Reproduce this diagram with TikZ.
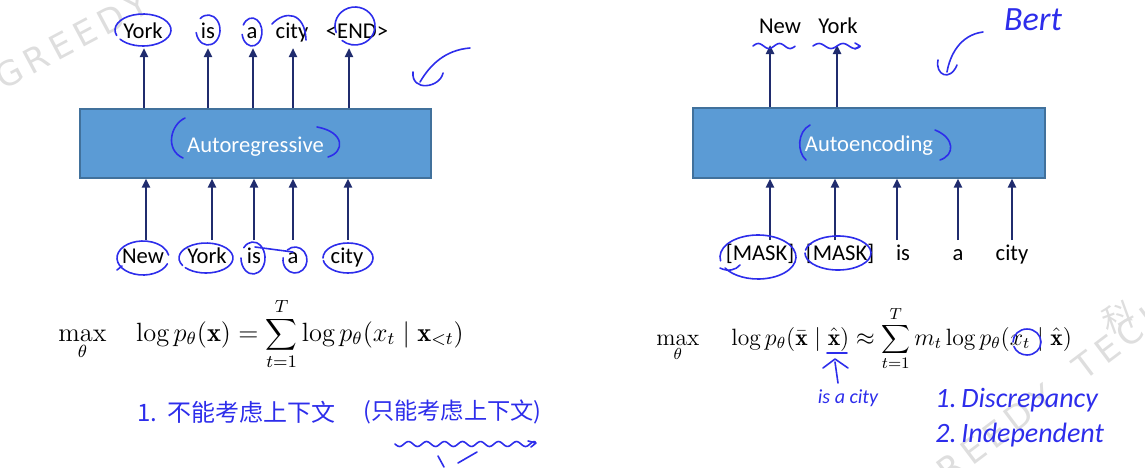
\documentclass[tikz,border=0pt]{standalone}
\usepackage{fontspec}
\usetikzlibrary{arrows.meta}
\newfontfamily\lbl{Carlito}
\newfontfamily\cjk{Noto Sans CJK SC}
\newfontfamily\wmfont{DejaVu Sans}
\definecolor{boxfill}{RGB}{91,155,213}
\definecolor{boxline}{RGB}{65,113,156}
\definecolor{arrcol}{RGB}{32,44,110}
\definecolor{hblue}{RGB}{45,45,235}
\tikzset{
  box/.style={draw=boxline, line width=0.6pt, fill=boxfill, minimum width=175.5pt,
    minimum height=34.5pt, inner sep=0pt, text=white, text height=11pt, text depth=2.3pt,
    font=\lbl\fontsize{11.3}{13}\selectfont},
  tok/.style={font=\lbl\fontsize{11.3}{13}\selectfont, text height=8pt, text depth=2pt,
    inner xsep=1pt, inner ysep=3pt},
  arr/.style={draw=arrcol, line width=1.2pt, -{Triangle[length=4.5pt,width=4pt]}},
  hw/.style={draw=hblue, line width=0.8pt, line cap=round, line join=round},
  hwtxt/.style={text=hblue, inner sep=0pt, font=\lbl\itshape\fontsize{#1}{#1}\selectfont},
  hwcjk/.style={text=hblue, inner sep=0pt, font=\cjk\fontsize{#1}{#1}\selectfont},
  formula/.style={inner sep=0pt, font=\fontsize{#1}{#1}\selectfont},
  wm/.style={text=black!13, inner sep=0pt, font=\wmfont\fontsize{#1}{#1}\selectfont}
}
\newcommand{\hwloop}[6]{\draw[hw] (#1,#2) ++(#5:#3 and #4) arc[start angle=#5, delta angle=#6, x radius=#3, y radius=#4];}
\begin{document}
\begin{tikzpicture}[x=0.5pt,y=-0.5pt]
\useasboundingbox (0,0) rectangle (1145,467);

% ---------- watermarks ----------
\node[wm=17, rotate=28] (wmA) at (72,40) {G\,R\,E\,E\,D\,Y};
\node[wm=17, rotate=37] (wmB) at (1040,400) {G\,R\,E\,E\,D\,Y\quad T\,E\,C\,H};
\node[wm=16, rotate=20, font=\cjk\fontsize{16}{16}\selectfont] (wmC) at (1118,318) {科};

% ---------- left: autoregressive ----------
\node[box] (ar) at (255.5,143.5) {Autoregressive};

\node[tok] (lt1) at (143,32) {York};
\node[tok] (lt2) at (208,32) {is};
\node[tok] (lt3) at (252,32) {a};
\node[tok] (lt4) at (292,32) {city};
\node[tok] (lt5) at (357,32) {<END>};
\coordinate (lta1) at (144,48);
\coordinate (lta2) at (208,48);
\coordinate (lta3) at (253,48);
\coordinate (lta4) at (293,48);
\coordinate (lta5) at (349,48);
\foreach \c in {lta1,lta2,lta3,lta4,lta5} \draw[arr] (ar.north -| \c) -- (\c);

\node[tok] (lb1) at (143,257) {New};
\node[tok] (lb2) at (207,257) {York};
\node[tok] (lb3) at (254,257) {is};
\node[tok] (lb4) at (293,257) {a};
\node[tok] (lb5) at (347,257) {city};
\coordinate (lba1) at (146,240);
\coordinate (lba2) at (212,240);
\coordinate (lba3) at (254,240);
\coordinate (lba4) at (293,240);
\coordinate (lba5) at (348,240);
\foreach \c in {lba1,lba2,lba3,lba4,lba5} \draw[arr] (\c) -- (\c |- ar.south);

\node[formula=12, anchor=base west] (lf) at (58,341)
  {\scalebox{1.1}{$\displaystyle \max_{\theta}\hspace{11.5pt} \log p_{\theta}(\mathbf{x})=\sum_{t=1}^{T}\log p_{\theta}(x_t\mid \mathbf{x}_{<t})$}};

% ---------- right: autoencoding ----------
\node[box, minimum width=176pt, minimum height=35pt] (ae) at (869,143) {Autoencoding};

\node[tok] (rt1) at (780,27) {New};
\node[tok] (rt2) at (838,27) {York};
\coordinate (rta1) at (770,45);
\coordinate (rta2) at (837,45);
\foreach \c in {rta1,rta2} \draw[arr] (ae.north -| \c) -- (\c);

\node[tok] (rb1) at (760,254) {[MASK]};
\node[tok] (rb2) at (840,254) {[MASK]};
\node[tok] (rb3) at (903,254) {is};
\node[tok] (rb4) at (958,254) {a};
\node[tok] (rb5) at (1012,254) {city};
\coordinate (rba1) at (770,240);
\coordinate (rba2) at (835,240);
\coordinate (rba3) at (897,240);
\coordinate (rba4) at (958,240);
\coordinate (rba5) at (1012,240);
\foreach \c in {rba1,rba2,rba3,rba4,rba5} \draw[arr] (\c) -- (\c |- ae.south);

\node[formula=11.8, anchor=base west] (rf) at (656,345)
  {$\displaystyle \max_{\theta}\hspace{14pt} \log p_{\theta}(\bar{\mathbf{x}}\mid\hat{\mathbf{x}})\approx\sum_{t=1}^{T}m_t\log p_{\theta}(x_t\mid\hat{\mathbf{x}})$};

% ---------- handwritten annotations (left) ----------
\hwloop{143}{30}{28}{16}{160}{345}
\hwloop{208}{30}{12}{15}{230}{300}
\hwloop{252}{32}{10}{14}{210}{320}
\draw[hw] (272,24) .. controls (285,10) and (305,12) .. (306,40);
\hwloop{355}{26}{20}{19}{160}{330}
\draw[hw] (470,48) .. controls (445,50) and (430,65) .. (420,82);
\draw[hw] (413,72) .. controls (411,92) and (440,88) .. (443,73);
% parentheses in box
\draw[hw] (185,118) .. controls (170,125) and (165,150) .. (183,158);
\draw[hw] (317,127) .. controls (345,132) and (345,152) .. (328,157);
% bottom circles
\hwloop{143}{258}{26}{17}{20}{330}
\draw[hw] (117,270) -- (122,266);
\hwloop{206}{258}{27}{15}{150}{350}
\hwloop{253}{258}{12}{16}{220}{320}
\draw[hw] (255,247) -- (293,252);
\hwloop{295}{260}{12}{13}{230}{320}
\hwloop{348}{258}{25}{15}{180}{350}
% chinese notes
\node[hwcjk=12, anchor=west] (cn1) at (137,412) {1.\hspace{5pt}不能考虑上下文};
\node[hwcjk=11.6, anchor=west] (cn2) at (363,412) {(只能考虑上下文)};
\draw[hw] plot[domain=395:535, samples=90] (\x,{444+2.5*sin(20*(\x-395))});
\draw[hw] (528,441) -- (536,443) -- (531,447);
\draw[hw] (438,456) -- (444,467);
\draw[hw] (458,463) -- (477,452);

% ---------- handwritten annotations (right) ----------
\draw[hw] plot[domain=753:795, samples=40] (\x,{46-2.5*sin(17*(\x-753))});
\draw[hw] plot[domain=813:860, samples=40] (\x,{46-2.5*sin(15*(\x-813))});
\draw[hw] (855,43) -- (860,46) -- (855,49);
\draw[hw] (983,32) .. controls (960,35) and (950,55) .. (947,72);
\draw[hw] (938,60) .. controls (935,75) and (950,82) .. (957,65);
\node[hwtxt=17] (bert) at (1033,20) {Bert};
\draw[hw] (810,125) .. controls (797,132) and (797,152) .. (806,160);
\draw[hw] (935,130) .. controls (955,138) and (955,155) .. (940,160);
\hwloop{758}{257}{38}{22}{170}{340}
\draw[hw] (720,268) .. controls (728,272) and (736,270) .. (740,265);
\hwloop{838}{253}{33}{17}{190}{350}
\hwloop{1027}{342}{14}{13}{180}{340}
\draw[hw] (827,353) -- (847,353);
\draw[hw] (823,368) -- (835,359) -- (848,368);
\draw[hw] (835,362) -- (838,383);
\node[hwtxt=10] (isac) at (848,398) {is a city};
\node[hwtxt=14, anchor=west] (d1) at (935,400) {1.\,Discrepancy};
\node[hwtxt=14, anchor=west] (d2) at (935,435) {2.\,Independent};
\end{tikzpicture}
\end{document}
